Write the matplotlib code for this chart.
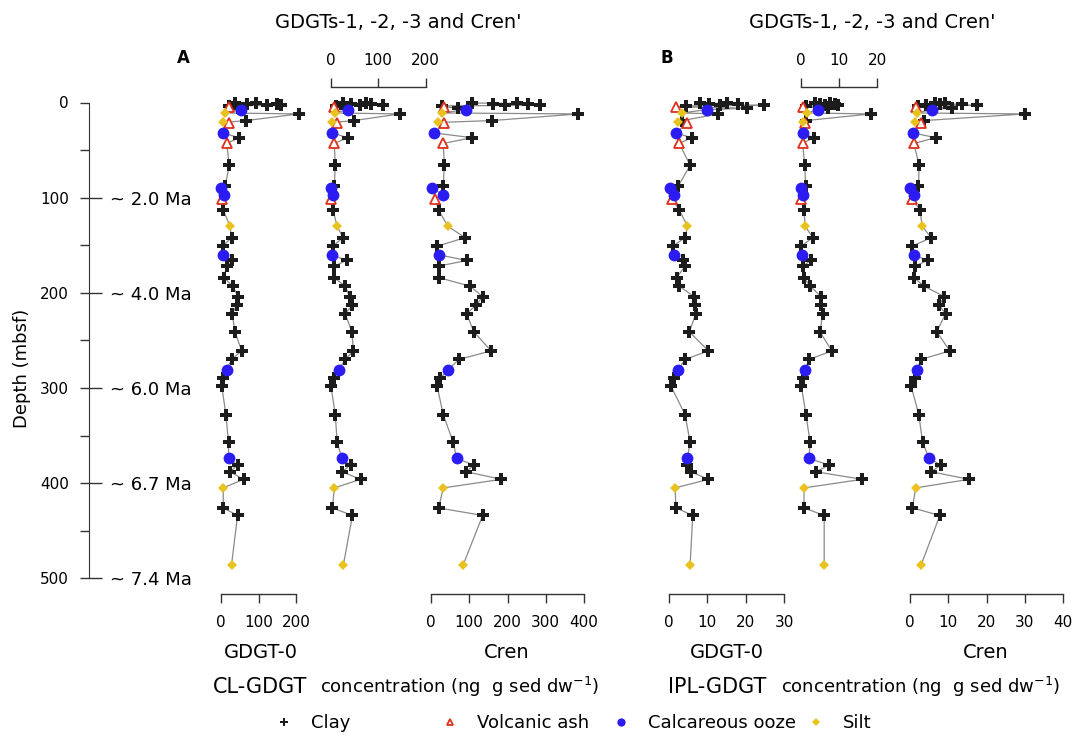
import matplotlib
matplotlib.use('Agg')
import matplotlib.pyplot as plt
from matplotlib.lines import Line2D

# sample depths (mbsf) and lithology: C clay, A volcanic ash, O calcareous ooze, S silt
depth = [0.5, 1.0, 1.5, 2.0, 2.5, 3.0, 3.5, 4.5, 6, 7.5, 11, 12, 19, 21, 22, 32, 37, 43, 66,
         88, 90, 97, 101, 113, 130, 142, 151, 160, 166, 172, 184, 193, 204, 213, 222, 241,
         261, 270, 281, 290, 298, 328, 357, 374, 381, 388, 396, 405, 426, 434, 486]
lith = ['C', 'C', 'C', 'C', 'C', 'C', 'C', 'A', 'C', 'O', 'S', 'C', 'C', 'S', 'A', 'O', 'C', 'A', 'C',
        'C', 'O', 'O', 'A', 'C', 'S', 'C', 'C', 'O', 'C', 'C', 'C', 'C', 'C', 'C', 'C', 'C',
        'C', 'C', 'O', 'C', 'C', 'C', 'C', 'O', 'C', 'C', 'C', 'S', 'C', 'C', 'S']

# CL-GDGT (ng g-1 sed dw)
cl_gdgt0 = [37, 93, 68, 150, 122, 159, 20, 20, 45, 52, 11, 206, 67, 6, 20, 4, 49, 15, 22,
            11, 1, 8, 2, 6, 24, 28, 4, 6, 30, 15, 8, 31, 46, 42, 30, 37,
            55, 28, 15, 6, 2, 13, 20, 20, 44, 24, 60, 6, 6, 44, 28]
cl_gdgt123 = [26, 75, 43, 86, 61, 110, 12, 8, 30, 36, 9, 146, 49, 4, 13, 4, 36, 8, 10,
              8, 1, 5, 1, 5, 14, 26, 5, 4, 34, 7, 7, 31, 40, 46, 31, 45,
              48, 31, 17, 8, 1, 10, 14, 24, 42, 24, 63, 8, 4, 46, 27]
cl_cren = [106, 224, 163, 254, 193, 285, 28, 35, 70, 91, 28, 385, 159, 17, 35, 8, 107, 32, 35,
           32, 2, 32, 10, 20, 44, 89, 16, 20, 93, 20, 20, 102, 135, 118, 93, 112,
           157, 73, 44, 24, 16, 32, 58, 67, 112, 92, 184, 32, 20, 135, 84]

# IPL-GDGT (ng g-1 sed dw)
ipl_gdgt0 = [8.1, 15.2, 10.5, 18.1, 13.3, 24.9, 4.4, 1.8, 20.3, 9.8, 3.3, 12.9, 3.5, 2.4, 4.6, 1.8, 5.9, 2.7, 5.5,
             2.4, 0.3, 1.3, 0.7, 2.7, 4.8, 4.2, 1.0, 1.3, 3.6, 4.2, 2.0, 2.7, 6.5, 6.8, 7.0, 5.3,
             10.3, 4.2, 2.4, 1.3, 0.5, 4.2, 5.5, 4.8, 4.8, 5.7, 10.3, 1.6, 1.8, 6.2, 5.5]
ipl_gdgt123 = [3.7, 7.6, 5.0, 8.9, 6.3, 9.8, 1.3, 0.4, 7.0, 4.4, 1.5, 18.4, 1.3, 0.4, 1.0, 0.4, 3.3, 0.4, 1.0,
               1.2, 0.1, 0.4, 0.1, 0.8, 1.1, 3.1, 0.1, 0.2, 2.6, 0.4, 0.8, 2.4, 5.3, 5.3, 5.7, 5.0,
               8.1, 2.2, 1.1, 0.6, 0.1, 1.3, 2.4, 2.1, 7.4, 3.9, 16.1, 0.8, 0.8, 6.1, 6.1]
ipl_cren = [6.5, 9.1, 7.8, 13.5, 4.3, 17.4, 2.0, 1.5, 10.9, 5.7, 1.7, 30.0, 3.7, 1.3, 3.0, 0.9, 6.7, 1.0, 2.4,
            2.2, 0.1, 1.0, 0.6, 2.6, 3.2, 5.5, 0.6, 1.0, 4.6, 1.3, 1.0, 3.7, 9.0, 7.6, 9.3, 7.0,
            10.4, 2.9, 1.9, 1.3, 0.3, 2.3, 3.3, 5.0, 8.1, 5.5, 15.4, 1.5, 0.6, 7.8, 2.9]

depth_ticks = [0, 100, 200, 300, 400, 500]
age_ticks = [100, 200, 300, 400, 500]
age_labels = ['~ 2.0 Ma', '~ 4.0 Ma', '~ 6.0 Ma', '~ 6.7 Ma', '~ 7.4 Ma']

styles = {
    'C': dict(marker='P', color='#1c1c1c', markersize=8.5, markeredgewidth=0),
    'A': dict(marker='^', color='#e0301c', markerfacecolor='white', markersize=6.5, markeredgewidth=1.3),
    'O': dict(marker='o', color='#2a1cf2', markersize=8.5, markeredgewidth=0),
    'S': dict(marker='D', color='#e8c21e', markersize=5.5, markeredgewidth=0),
}
legend_names = {'C': 'Clay', 'A': 'Volcanic ash', 'O': 'Calcareous ooze', 'S': 'Silt'}

W, H = 1073, 735
fig = plt.figure(figsize=(W / 100, H / 100), dpi=100)
y_top, y_bot = 102.5, 578.3


def px_axes(x0, x1):
    return fig.add_axes([x0 / W, 1 - y_bot / H, (x1 - x0) / W, (y_bot - y_top) / H])


panels = [
    (cl_gdgt0, 221, 296.3, 200, [0, 100, 200], 'bottom'),
    (cl_gdgt123, 330.5, 425.8, 200, [0, 100, 200], 'top'),
    (cl_cren, 431, 584, 400, [0, 100, 200, 300, 400], 'bottom'),
    (ipl_gdgt0, 669, 784, 30, [0, 10, 20, 30], 'bottom'),
    (ipl_gdgt123, 801, 877, 20, [0, 10, 20], 'top'),
    (ipl_cren, 910, 1063, 40, [0, 10, 20, 30, 40], 'bottom'),
]

for vals, x0, x1, xmax, ticks, side in panels:
    ax = px_axes(x0, x1)
    ax.set_xlim(0, xmax)
    ax.set_ylim(500, 0)
    ax.patch.set_visible(False)
    for s in ax.spines.values():
        s.set_visible(False)
    ax.set_yticks([])
    ax.spines[side].set_visible(True)
    ax.spines[side].set_linewidth(1.0)
    ax.spines[side].set_color('#333333')
    if side == 'bottom':
        ax.spines['bottom'].set_position(('outward', 11.5))
        ax.xaxis.set_ticks_position('bottom')
        pad = 8.5
    else:
        ax.spines['top'].set_position(('outward', 11))
        ax.xaxis.set_ticks_position('top')
        pad = 7
    ax.set_xticks(ticks)
    ax.tick_params(axis='x', direction='out', length=6.5, width=1.0, color='#333333',
                   labelsize=11, pad=pad)
    ax.plot(vals, depth, color='#8a8a8a', lw=0.9, zorder=1, clip_on=False)
    for code, st in styles.items():
        xs = [v for v, l in zip(vals, lith) if l == code]
        ys = [d for d, l in zip(depth, lith) if l == code]
        ax.plot(xs, ys, linestyle='none', zorder=3, clip_on=False, **st)

# depth axis with age labels
axd = fig.add_axes([89 / W, 1 - y_bot / H, 0.0001, (y_bot - y_top) / H])
axd.set_ylim(500, 0)
axd.set_xticks([])
for k in ['top', 'bottom', 'right']:
    axd.spines[k].set_visible(False)
axd.spines['left'].set_color('#333333')
axd.set_yticks(depth_ticks)
axd.set_yticks([50, 150, 250, 350, 450], minor=True)
axd.tick_params(axis='y', which='both', direction='out', length=6.5, width=1.0,
                color='#333333', labelsize=11, pad=8)

axr = axd.twinx()
axr.set_ylim(500, 0)
for k in ['top', 'bottom', 'left', 'right']:
    axr.spines[k].set_visible(False)
axr.set_yticks(age_ticks)
axr.set_yticklabels(age_labels)
axr.tick_params(axis='y', direction='out', length=9, width=1.0, color='#333333',
                labelsize=13, pad=6)

fig.text(22 / W, 1 - 368 / H, 'Depth (mbsf)', rotation=90, ha='center', va='center', fontsize=13)

# header texts
fig.text(398 / W, 1 - 22 / H, "GDGTs-1, -2, -3 and Cren'", ha='center', va='center', fontsize=14)
fig.text(872 / W, 1 - 22 / H, "GDGTs-1, -2, -3 and Cren'", ha='center', va='center', fontsize=14)
fig.text(183 / W, 1 - 58 / H, 'A', ha='center', va='center', fontsize=12, fontweight='bold')
fig.text(667 / W, 1 - 58 / H, 'B', ha='center', va='center', fontsize=12, fontweight='bold')

# bottom texts
for name, xc in [('GDGT-0', 261), ('Cren', 507), ('GDGT-0', 727), ('Cren', 986)]:
    fig.text(xc / W, 1 - 653 / H, name, ha='center', va='center', fontsize=14)
for x_name, x_conc, name in [(213, 320, 'CL-GDGT'), (668, 781, 'IPL-GDGT')]:
    fig.text(x_name / W, 1 - 687 / H, name, ha='left', va='center', fontsize=15)
    fig.text(x_conc / W, 1 - 687 / H, 'concentration (ng  g sed dw$^{\\mathregular{-1}}$)',
             ha='left', va='center', fontsize=13)

# legend: four entries placed along one row
for code, xm in zip(['C', 'A', 'O', 'S'], [283, 449, 620, 815]):
    st = dict(styles[code])
    st['markersize'] = st['markersize'] * 0.7
    h = Line2D([], [], linestyle='none', **st)
    fig.legend([h], [legend_names[code]], loc='center left',
               bbox_to_anchor=((xm - 8.3) / W, 1 - 723 / H), frameon=False, fontsize=13,
               handlelength=1.0, handletextpad=1.0, borderpad=0, borderaxespad=0)

fig.savefig('out.png', dpi=100)
